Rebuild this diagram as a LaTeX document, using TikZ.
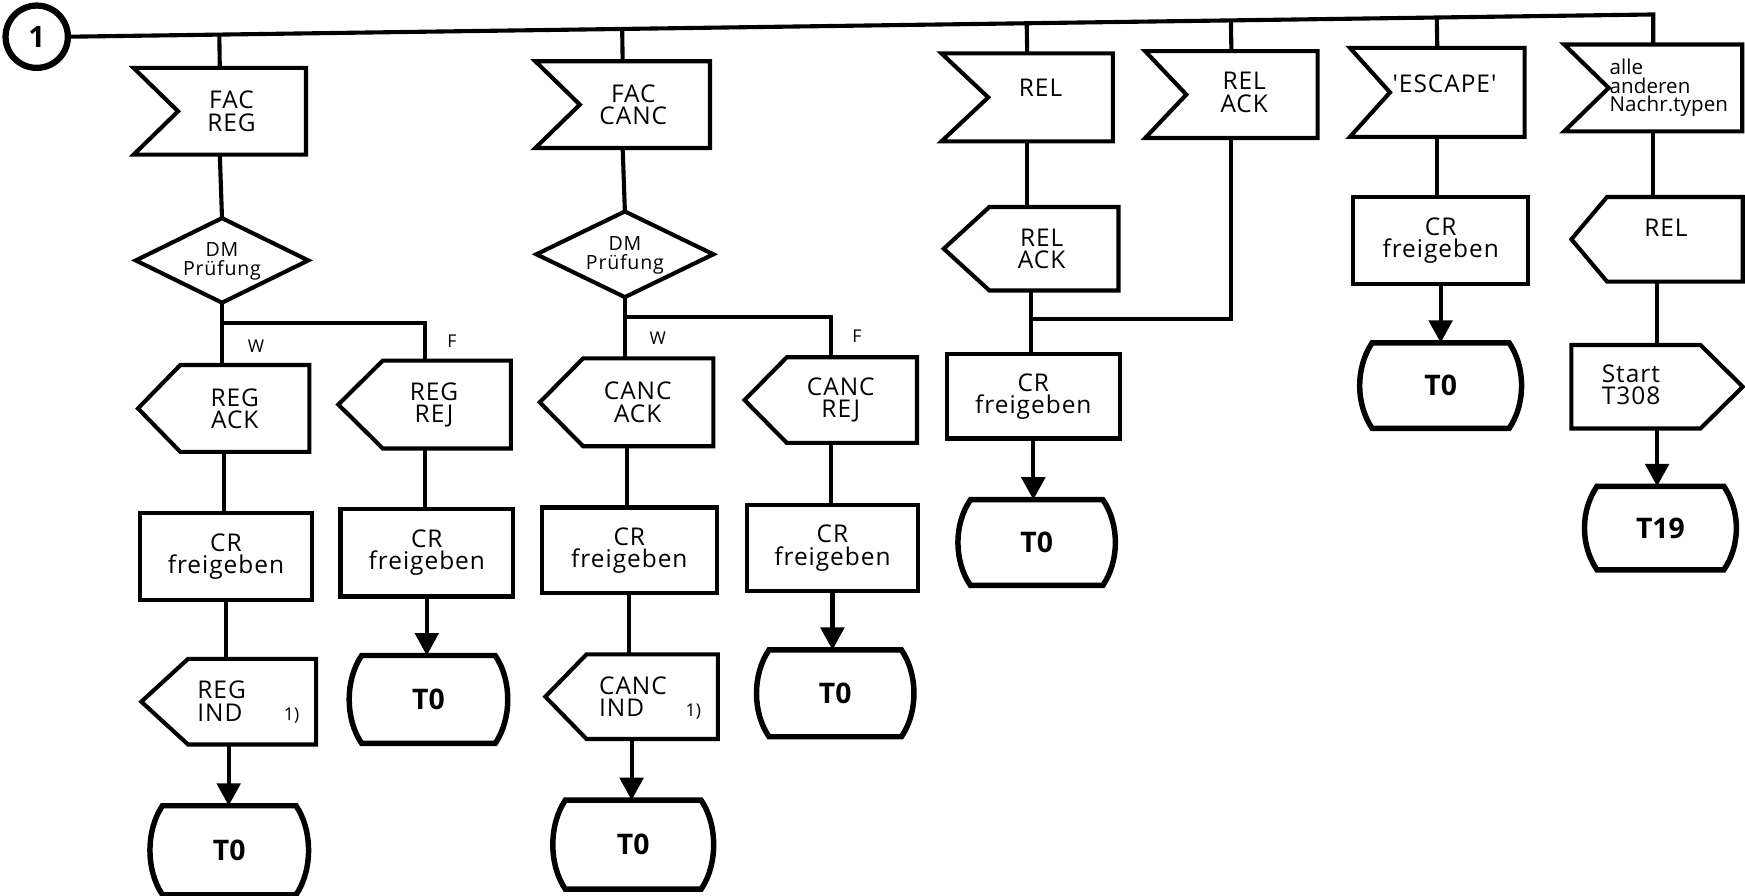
\documentclass[tikz,border=0pt]{standalone}
\usepackage{fontspec}
\setmainfont{Open Sans}
\newfontfamily\lblfont{Open Sans}[LetterSpace=4.0]
\newfontfamily\smfont{Open Sans}[LetterSpace=0.5]
\usetikzlibrary{calc,arrows.meta}

\tikzset{
  framenode/.style={inner sep=0pt, outer sep=0pt, align=center, font=\lblfont\fontsize{12.5}{11.3}\selectfont},
  shp/.style={line width=2.1pt, line join=miter},
  termline/.style={line width=2.8pt, line join=miter},
  conn/.style={line width=2.1pt},
  arr/.style={line width=2.1pt, -{Triangle[length=11.5pt,width=12pt]}},
  lbl/.style={inner sep=0pt, align=center, font=\lblfont\fontsize{12.5}{11.3}\selectfont},
  smlbl/.style={inner sep=0pt, align=center, font=\lblfont\fontsize{10}{9.4}\selectfont},
  alllbl/.style={inner sep=0pt, align=left, font=\smfont\fontsize{10.5}{9.5}\selectfont},
  tinylbl/.style={inner sep=0pt, font=\fontsize{9}{10}\selectfont},
  termtxt/.style={font=\bfseries\fontsize{14.5}{17}\selectfont},
  circ/.style={circle, draw, line width=3.2pt, minimum size={56*0.02cm}, inner sep=0pt, outer sep=0pt, font=\bfseries\fontsize{15}{17}\selectfont}
}

% name, cx, cy, w, h, text
\newcommand{\FrameNode}[6]{%
  \node[framenode, minimum width={#4*0.02cm}, minimum height={#5*0.02cm}] (#1) at (#2,#3) {#6};}
% input signal: name cx cy w h notch
\newcommand{\InSig}[6]{\FrameNode{#1}{#2}{#3}{#4}{#5}{}%
  \draw[shp] (#1.north west) -- (#1.north east) -- (#1.south east) -- (#1.south west) -- ($(#1.west)+(#6,0)$) -- cycle;}
% output signal: name cx cy w h point depth
\newcommand{\OutSig}[6]{\FrameNode{#1}{#2}{#3}{#4}{#5}{}%
  \draw[shp] ($(#1.north west)+(#6,0)$) -- (#1.north east) -- (#1.south east) -- ($(#1.south west)+(#6,0)$) -- (#1.west) -- cycle;}
% timer start: point to the right
\newcommand{\TimSig}[6]{\FrameNode{#1}{#2}{#3}{#4}{#5}{}%
  \draw[shp] (#1.north west) -- ($(#1.north east)-(#6,0)$) -- (#1.east) -- ($(#1.south east)-(#6,0)$) -- (#1.south west) -- cycle;}
% process box
\newcommand{\ProcBox}[6]{\FrameNode{#1}{#2}{#3}{#4}{#5}{#6}%
  \draw[shp] (#1.north west) rectangle (#1.south east);}
% decision
\newcommand{\Dia}[5]{\FrameNode{#1}{#2}{#3}{#4}{#5}{}%
  \draw[shp] (#1.north) -- (#1.east) -- (#1.south) -- (#1.west) -- cycle;}
% terminal
\newcommand{\Term}[6]{%
  \node[framenode, termtxt, minimum width={#4*0.02cm}, minimum height={#5*0.02cm}] (#1) at (#2,#3) {#6};
  \draw[termline] ($(#1.north west)+(14,0)$) -- ($(#1.north east)+(-14,0)$)
    .. controls ($(#1.north east)+(1,22)$) and ($(#1.south east)+(1,-22)$) .. ($(#1.south east)+(-14,0)$)
    -- ($(#1.south west)+(14,0)$)
    .. controls ($(#1.south west)+(-1,-22)$) and ($(#1.north west)+(-1,22)$) .. cycle;}

\begin{document}
\begin{tikzpicture}[x=0.02cm, y=-0.02cm]
\useasboundingbox (0,0) rectangle (1568,805);
\fill[white] (0,0) rectangle (1568,805);

\node[circ] (c1) at (33,33) {1};
\coordinate (R) at (1485.5,13);

% ---- column A
\InSig{facreg}{197.5}{100}{155}{78}{40}
\node[lbl] (facregT) at ($(facreg)+(10.5,0)$) {FAC\\REG};
\Dia{dmA}{199.5}{234}{155}{76}
\node[smlbl] (dmAT) at ($(dmA)+(0,1)$) {DM\\Prüfung};
\OutSig{regack}{201}{367}{154}{78}{38}
\node[lbl] (regackT) at ($(regack)+(10,0)$) {REG\\ACK};
\ProcBox{crA}{203}{500}{154}{78}{CR\\freigeben}
\OutSig{regind}{205.5}{630.5}{157}{77}{42}
\node[lbl, anchor=west, align=left] (regindT) at (177,630) {REG\\IND};
\node[tinylbl] (fnA) at (262,643) {1)};
\Term{tA}{206}{764}{148}{80}{T0}

% ---- column B
\OutSig{regrej}{381.5}{363.5}{155}{79}{40}
\node[lbl] (regrejT) at ($(regrej)+(8.5,0)$) {REG\\REJ};
\ProcBox{crB}{383.5}{496.5}{155}{79}{CR\\freigeben}
\Term{tB}{385}{628.5}{148}{79}{T0}
\node[tinylbl] (wA) at (230,311) {W};
\node[tinylbl] (fA) at (406,307) {F};

% ---- column C
\InSig{faccanc}{559.5}{94}{157}{78}{40}
\node[lbl] (faccancT) at ($(faccanc)+(9.5,0)$) {FAC\\CANC};
\Dia{dmC}{561.5}{228.5}{159}{77}
\node[smlbl] (dmCT) at ($(dmC)+(0,1)$) {DM\\Prüfung};
\OutSig{cancack}{563}{361.5}{156}{79}{39}
\node[lbl] (cancackT) at ($(cancack)+(10,0)$) {CANC\\ACK};
\ProcBox{crC}{565.5}{494.5}{157}{77}{CR\\freigeben}
\OutSig{cancind}{567.5}{626}{155}{76}{37}
\node[lbl, anchor=west, align=left] (cancindT) at (538,626) {CANC\\IND};
\node[tinylbl] (fnC) at (623,639) {1)};
\Term{tC}{569}{759}{150}{80}{T0}

% ---- column C2
\OutSig{cancrej}{746.5}{359.5}{155}{77}{38}
\node[lbl] (cancrejT) at ($(cancrej)+(9,0)$) {CANC\\REJ};
\ProcBox{crCb}{748}{492.5}{154}{77}{CR\\freigeben}
\Term{tCb}{750.5}{623}{147}{78}{T0}
\node[tinylbl] (wC) at (591,304) {W};
\node[tinylbl] (fC) at (770,302) {F};

% ---- column D
\InSig{relin}{923}{87.5}{154}{79}{42}
\node[lbl] (relinT) at ($(relin)+(12,-9)$) {REL};
\OutSig{relackout}{926.5}{223.5}{157}{75}{41}
\node[lbl] (relackoutT) at ($(relackout)+(9.5,0)$) {REL\\ACK};
\ProcBox{crD}{928.5}{356}{155}{76}{CR\\freigeben}
\Term{tD}{931.5}{487.5}{147}{77}{T0}

% ---- column E
\InSig{relackin}{1106.5}{85}{155}{78}{37}
\node[lbl] (relackinT) at ($(relackin)+(11.5,-2)$) {REL\\ACK};

% ---- column F
\InSig{escin}{1291.5}{83}{157}{80}{36}
\node[lbl] (escinT) at ($(escin)+(6.5,-8)$) {'ESCAPE'};
\ProcBox{crF}{1294.5}{216}{157}{78}{CR\\freigeben}
\Term{tF}{1294.5}{346.5}{151}{77}{T0}

% ---- column G
\InSig{allein}{1485.5}{79}{160}{78}{40}
\node[alllbl, anchor=west] (alleinT) at (1446,79) {alle\\anderen\\Nachr.typen};
\OutSig{relout}{1489}{215}{154}{76}{32}
\node[lbl] (reloutT) at ($(relout)+(8,-10)$) {REL};
\TimSig{start}{1489}{347.5}{154}{75}{38}
\node[lbl, anchor=west, align=left] (startT) at (1439,346) {Start\\T308};
\Term{tG}{1492}{474.5}{142}{75}{T19}

% ---- connectors
\draw[conn] (c1.east) -- (R) -- (allein.north);
\foreach \n in {facreg,faccanc,relin,relackin,escin}{
  \draw[conn] (\n.north) -- ($(c1.east)!(\n.north)!(R)$);
}
\draw[conn] (facreg.south) -- (dmA.north);
\draw[conn] (dmA.south) -- (dmA.south |- regack.north);
\draw[conn] ($(dmA.south)+(0,18)$) -| (regrej.north);
\draw[conn] (regack.south) -- (regack.south |- crA.north);
\draw[conn] (crA.south) -- (crA.south |- regind.north);
\draw[arr] (regind.south) -- (regind.south |- tA.north);
\draw[conn] (regrej.south) -- (regrej.south |- crB.north);
\draw[arr] (crB.south) -- (crB.south |- tB.north);

\draw[conn] (faccanc.south) -- (dmC.north);
\draw[conn] (dmC.south) -- (dmC.south |- cancack.north);
\draw[conn] ($(dmC.south)+(0,18)$) -| (cancrej.north);
\draw[conn] (cancack.south) -- (cancack.south |- crC.north);
\draw[conn] (crC.south) -- (crC.south |- cancind.north);
\draw[arr] (cancind.south) -- (cancind.south |- tC.north);
\draw[conn] (cancrej.south) -- (cancrej.south |- crCb.north);
\draw[arr] (crCb.south) -- (crCb.south |- tCb.north);

\draw[conn] (relin.south) -- (relin.south |- relackout.north);
\draw[conn] (relackout.south) -- (relackout.south |- crD.north);
\draw[conn] (relackin.south) |- ($(relackout.south)+(0,26)$);
\draw[arr] (crD.south) -- (crD.south |- tD.north);

\draw[conn] (escin.south) -- (escin.south |- crF.north);
\draw[arr] (crF.south) -- (crF.south |- tF.north);

\draw[conn] (allein.south) -- (allein.south |- relout.north);
\draw[conn] (relout.south) -- (relout.south |- start.north);
\draw[arr] (start.south) -- (start.south |- tG.north);
\end{tikzpicture}
\end{document}
